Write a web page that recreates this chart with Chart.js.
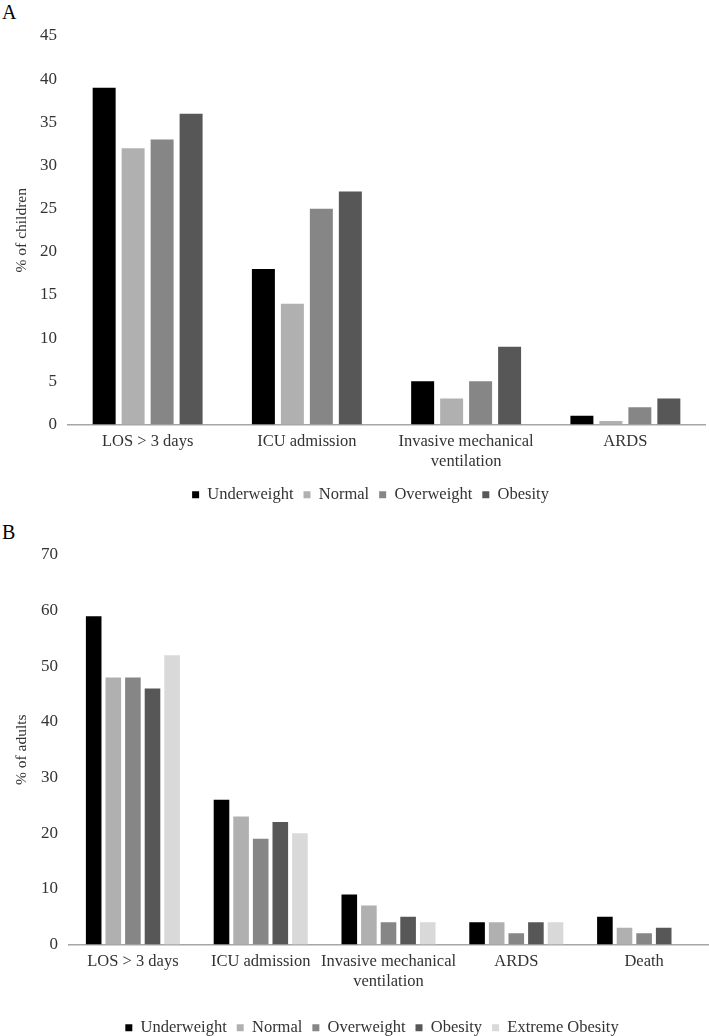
<!DOCTYPE html>
<html>
<head>
<meta charset="utf-8">
<script src="https://cdn.jsdelivr.net/npm/chart.js@4.4.1/dist/chart.umd.min.js"></script>
<style>
    html, body { margin: 0; padding: 0; background: #fff; overflow: hidden; }
    body { width: 709px; height: 1036px; position: relative; }
    .panel-letter { position: absolute; left: 2px; font-family: 'Liberation Serif', serif; font-size: 20px; color: #000; }
    canvas { position: absolute; left: 0; }
</style>
</head>
<body>
<div class="panel-letter" style="top: 1px;">A</div>
<div class="panel-letter" style="top: 521px;">B</div>
<div style="position:absolute; top:0; left:0; width:709px; height:513px;"><canvas id="childChart"></canvas></div>
<div style="position:absolute; top:520px; left:0; width:709px; height:526px;"><canvas id="adultChart"></canvas></div>
<script>
const childCategories = ['LOS > 3 days', 'ICU admission', ['Invasive mechanical', 'ventilation'], 'ARDS'];
const adultCategories = ['LOS > 3 days', 'ICU admission', ['Invasive mechanical', 'ventilation'], 'ARDS', 'Death'];

const groupNames = ['Underweight', 'Normal', 'Overweight', 'Obesity', 'Extreme Obesity'];
const groupColors = ['#000000', '#b0b0b0', '#868686', '#575757', '#d9d9d9'];

// children (% of children)
const childUnderweight = [39, 18, 5, 1];
const childNormal = [32, 14, 3, 0.4];
const childOverweight = [33, 25, 5, 2];
const childObesity = [36, 27, 9, 3];

// adults (% of adults)
const adultUnderweight = [59, 26, 9, 4, 5];
const adultNormal = [48, 23, 7, 4, 3];
const adultOverweight = [48, 19, 4, 2, 2];
const adultObesity = [46, 22, 5, 4, 3];
const adultExtremeObesity = [52, 20, 4, 4, null];

const FONT = "'Liberation Serif', 'Times New Roman', serif";
const TEXT_COLOR = '#333333';

// nudges the legend so it sits under the plot, not under the whole canvas
const legendShift = {
    id: 'legendShift',
    afterLayout(chart, args, opts) {
        if (chart.legend) {
            chart.legend.left += opts.dx;
            chart.legend.right += opts.dx;
        }
    }
};

function buildDatasets(seriesList) {
    return seriesList.map((values, i) => ({
        label: groupNames[i],
        data: values,
        backgroundColor: groupColors[i],
        borderWidth: 0
    }));
}

function makeChart(canvasId, categories, seriesList, cfg) {
    const ctx = document.getElementById(canvasId).getContext('2d');
    return new Chart(ctx, {
        type: 'bar',
        data: {
            labels: categories,
            datasets: buildDatasets(seriesList)
        },
        options: {
            responsive: true,
            maintainAspectRatio: false,
            animation: false,
            categoryPercentage: cfg.categoryPercentage,
            barPercentage: cfg.barPercentage,
            layout: {
                padding: { top: cfg.top, right: cfg.right, bottom: 0, left: 0 }
            },
            plugins: {
                legend: {
                    display: true,
                    position: 'bottom',
                    labels: {
                        boxWidth: 7,
                        boxHeight: 7,
                        padding: 10,
                        color: TEXT_COLOR,
                        font: { family: FONT, size: 16.5 }
                    }
                },
                tooltip: { enabled: false },
                legendShift: { dx: 18 }
            },
            scales: {
                x: {
                    grid: { display: false, drawTicks: false },
                    border: { display: true, color: '#a6a6a6', width: 1.5 },
                    ticks: {
                        autoSkip: false,
                        maxRotation: 0,
                        padding: 7,
                        color: TEXT_COLOR,
                        font: { family: FONT, size: 16.5, lineHeight: 1.2 }
                    },
                    afterFit: function(scale) { scale.height = cfg.xHeight; }
                },
                y: {
                    min: 0,
                    max: cfg.max,
                    grid: { display: false, drawTicks: false },
                    border: { display: false },
                    ticks: {
                        stepSize: cfg.step,
                        padding: 11,
                        color: TEXT_COLOR,
                        font: { family: FONT, size: 17 }
                    },
                    title: {
                        display: true,
                        text: cfg.title,
                        color: TEXT_COLOR,
                        font: { family: FONT, size: 15.5 },
                        padding: { top: 13, bottom: 0 }
                    },
                    afterFit: function(scale) { scale.width = cfg.left; }
                }
            }
        },
        plugins: [legendShift]
    });
}

makeChart('childChart', childCategories,
    [childUnderweight, childNormal, childOverweight, childObesity],
    { max: 45, step: 5, title: '% of children', top: 36, right: 4, left: 68, xHeight: 52,
      categoryPercentage: 0.728, barPercentage: 0.793 });

makeChart('adultChart', adultCategories,
    [adultUnderweight, adultNormal, adultOverweight, adultObesity, adultExtremeObesity],
    { max: 70, step: 10, title: '% of adults', top: 35, right: 1, left: 69, xHeight: 65,
      categoryPercentage: 0.767, barPercentage: 0.796 });
</script>
</body>
</html>
